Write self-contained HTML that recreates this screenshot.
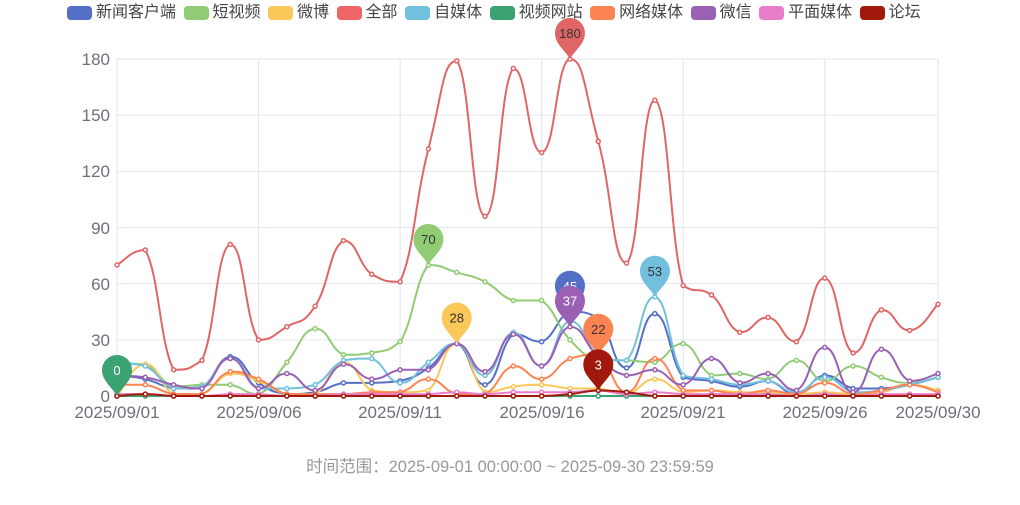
<!DOCTYPE html>
<html><head><meta charset="utf-8"><style>
body{margin:0;width:1020px;height:505px;background:#fff;overflow:hidden;font-family:"Liberation Sans","Noto Sans CJK SC",sans-serif}
.lg{position:absolute;top:3px;left:67px;display:flex;gap:7.5px;font-size:16px;color:#444;line-height:19px}
.lg span{display:flex;align-items:center}
.lg i{display:inline-block;width:25px;height:14px;border-radius:4px;margin-right:4px}
</style></head><body>
<div class="lg">
<span><i style="background:#5470c6"></i>新闻客户端</span>
<span><i style="background:#91cc75"></i>短视频</span>
<span><i style="background:#fac858"></i>微博</span>
<span><i style="background:#ee6666"></i>全部</span>
<span><i style="background:#73c0de"></i>自媒体</span>
<span><i style="background:#3ba272"></i>视频网站</span>
<span><i style="background:#fc8452"></i>网络媒体</span>
<span><i style="background:#9a60b4"></i>微信</span>
<span><i style="background:#ea7ccc"></i>平面媒体</span>
<span><i style="background:#a0190c"></i>论坛</span>
</div>
<svg id="s" width="1020" height="505" style="position:absolute;left:0;top:0" font-family="Liberation Sans, Noto Sans CJK SC, sans-serif">
<g id="grid" stroke="#e0e6f1" stroke-width="1"></g>
<g font-size="17" fill="#6e7079" text-anchor="end">
<text x="110" y="402">0</text><text x="110" y="346">30</text><text x="110" y="290">60</text><text x="110" y="234">90</text><text x="110" y="177">120</text><text x="110" y="121">150</text><text x="110" y="65">180</text>
</g>
<g font-size="17" fill="#6e7079" text-anchor="middle">
<text x="117" y="418">2025/09/01</text><text x="259" y="418">2025/09/06</text><text x="400" y="418">2025/09/11</text><text x="542" y="418">2025/09/16</text><text x="683" y="418">2025/09/21</text><text x="825" y="418">2025/09/26</text><text x="938" y="418">2025/09/30</text>
</g>
<g id="lines"></g>
<g id="pins" font-size="13" text-anchor="middle"></g>
<text x="510" y="472" font-size="16.5" fill="#999" text-anchor="middle">时间范围：2025-09-01 00:00:00 ~ 2025-09-30 23:59:59</text>
</svg>
<script>
var X0=117,DX=(938-117)/29,Y0=396,SY=(396-59)/180;
function px(i){return X0+i*DX}function py(v){return Y0-v*SY}
var g=document.getElementById('grid'),h='';
for(var k=0;k<=6;k++){var y=Y0-k*30*SY;h+='<line x1="117" x2="938" y1="'+y+'" y2="'+y+'"/>';}
[0,5,10,15,20,25,29].forEach(function(i){h+='<line y1="59" y2="396" x1="'+px(i)+'" x2="'+px(i)+'"/>'});
h+='<line x1="117" x2="938" y1="396" y2="396" stroke="#6e7079"/>';
g.innerHTML=h;
var S=[
['#5470c6',[11,9,4,4,21,7,1,2,7,7,8,15,28,6,33,29,45,42,15,44,10,8,5,8,1,11,4,4,6,10],16,1],
['#91cc75',[17,17,5,6,6,1,18,36,22,23,29,70,66,61,51,51,30,19,19,18,28,11,12,9,19,8,16,10,7,10],11,0],
['#fac858',[0,17,1,1,12,8,1,1,18,3,2,3,28,2,5,6,4,4,1,9,2,3,2,2,1,2,1,2,6,3],12,0],
['#e06666',[70,78,14,19,81,30,37,48,83,65,61,132,179,96,175,130,180,136,71,158,59,54,34,42,29,63,23,46,35,49],16,0],
['#73c0de',[18,16,4,5,20,4,4,6,19,20,7,18,28,11,34,16,40,22,19,53,11,9,6,8,2,10,2,3,6,10],19,0],
['#3ba272',[0,0,0,0,0,0,0,0,0,0,0,0,0,0,0,0,0,0,0,0,0,0,0,0,0,0,0,0,0,0],0,1],
['#fc8452',[6,6,1,1,13,9,1,1,1,2,2,9,1,1,16,9,20,22,2,20,3,3,1,3,1,7,1,3,6,2],17,0],
['#9a60b4',[11,10,6,4,20,4,12,3,17,9,14,14,28,13,33,16,37,21,11,14,6,20,7,12,3,26,2,25,8,12],16,1],
['#ea7ccc',[1,1,0,0,1,1,0,0,1,1,1,1,2,1,2,2,2,3,1,2,1,1,1,1,0,1,0,1,1,1],-1,0],
['#a0190c',[0,1,0,0,0,0,0,0,0,0,0,0,0,0,0,0,1,3,2,0,0,0,0,0,0,0,0,0,0,0],17,1]
];
function cl(v,a,b){var lo=Math.min(a,b),hi=Math.max(a,b);return Math.max(lo,Math.min(hi,v))}
var L='',P='';
S.forEach(function(s){
 var c=s[0],d=s[1],pts=d.map(function(v,i){return[px(i),py(v)]});
 var p='M'+pts[0][0]+','+pts[0][1],t=0.25;
 for(var i=0;i<pts.length-1;i++){
  var a=pts[Math.max(0,i-1)],b=pts[i],e=pts[i+1],f=pts[Math.min(pts.length-1,i+2)];
  var c1=[b[0]+(e[0]-a[0])*t,cl(b[1]+(e[1]-a[1])*t,b[1],e[1])],c2=[e[0]-(f[0]-b[0])*t,cl(e[1]-(f[1]-b[1])*t,b[1],e[1])];
  p+='C'+c1+' '+c2+' '+e;
 }
 L+='<path d="'+p+'" fill="none" stroke="'+c+'" stroke-width="2"/>';
 pts.forEach(function(q){L+='<circle cx="'+q[0]+'" cy="'+q[1]+'" r="2" fill="#fff" stroke="'+c+'" stroke-width="1.5"/>'});
 if(s[2]>=0){
  var i=s[2],x=px(i),y=py(d[i]),r=15,cy=y-26;
  P+='<path d="M'+x+','+y+' C'+(x-5)+','+(y-9)+' '+(x-r)+','+(cy+11)+' '+(x-r)+','+cy+' A'+r+','+r+' 0 1 1 '+(x+r)+','+cy+' C'+(x+r)+','+(cy+11)+' '+(x+5)+','+(y-9)+' '+x+','+y+'Z" fill="'+c+'"/>';
  P+='<text x="'+x+'" y="'+(cy+5)+'" fill="'+(s[3]?'#fff':'#333')+'">'+d[i]+'</text>';
 }
});
document.getElementById('lines').innerHTML=L;
document.getElementById('pins').innerHTML=P;
</script>
</body></html>
